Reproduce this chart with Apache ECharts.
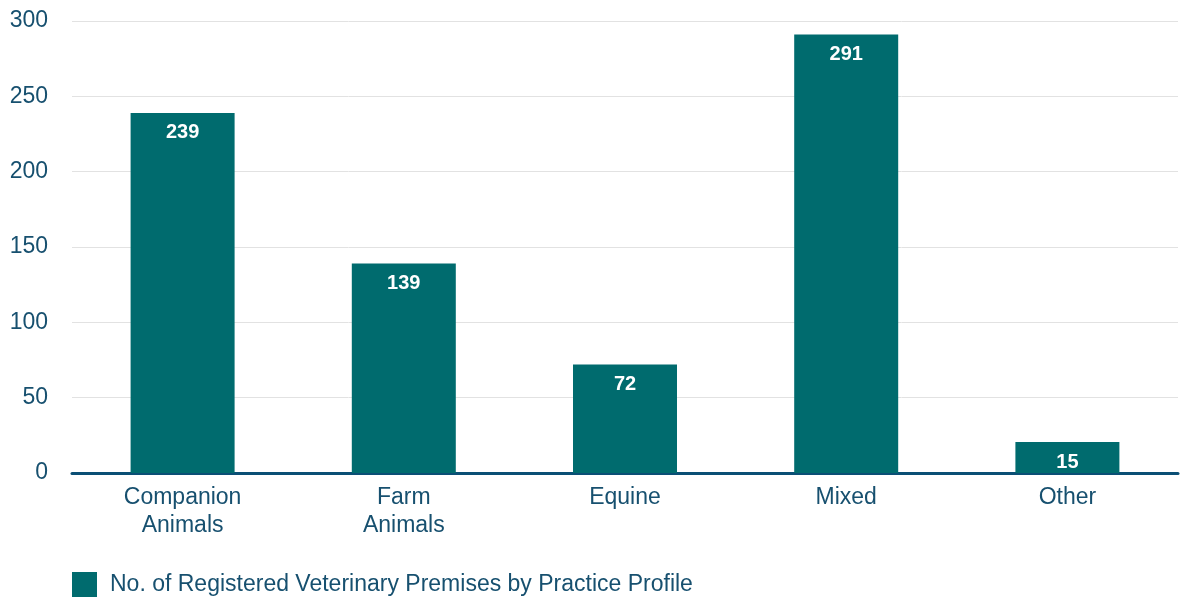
<!DOCTYPE html>
<html><head><meta charset="utf-8">
<script src="https://cdn.jsdelivr.net/npm/echarts@6/dist/echarts.min.js"></script>
<style>html,body{margin:0;padding:0;background:#fff}#c{width:1180px;height:601px}</style>
</head><body><div id="c"></div>
<script>
const categories = ["Companion\nAnimals", "Farm\nAnimals", "Equine", "Mixed", "Other"];
const values = [239, 139, 72, 291, 15];
const seriesName = "No. of Registered Veterinary Premises by Practice Profile";
const yTicks = [0, 50, 100, 150, 200, 250, 300];

const textColor = "#17506f";
const font = "Liberation Sans, Arial, sans-serif";
const chart = echarts.init(document.getElementById('c'), null, {renderer: 'canvas'});
chart.setOption({
  animation: false,
  textStyle: {fontFamily: font},
  grid: {left: 72, right: 2, top: 21, bottom: 128, containLabel: false},
  legend: {
    left: 72, top: 572, padding: 0, itemWidth: 25, itemHeight: 25, itemGap: 10,
    icon: 'rect',
    textStyle: {color: textColor, fontSize: 23, fontFamily: font, padding: [0,0,0,8]},
    data: [seriesName]
  },
  xAxis: {
    type: 'category', data: categories,
    axisLine: {lineStyle: {color: '#0b4f75', width: 3}},
    axisTick: {show: false},
    axisLabel: {color: textColor, fontSize: 23, lineHeight: 28, margin: 11, interval: 0}
  },
  yAxis: {
    type: 'value', min: yTicks[0], max: yTicks[yTicks.length-1], interval: 50,
    axisLine: {show: false}, axisTick: {show: false},
    axisLabel: {color: textColor, fontSize: 23, margin: 24},
    splitLine: {lineStyle: {color: '#e2e2e2', width: 1}}
  },
  series: [{
    name: seriesName, type: 'bar', data: values, barWidth: 104, barMinHeight: 31,
    itemStyle: {color: '#006b6e'},
    label: {show: true, position: 'insideTop', distance: 10, color: '#fff', fontSize: 20, fontWeight: 'bold', fontFamily: "Liberation Sans Narrow, Liberation Sans, Arial, sans-serif"}
  }]
});
</script></body></html>
